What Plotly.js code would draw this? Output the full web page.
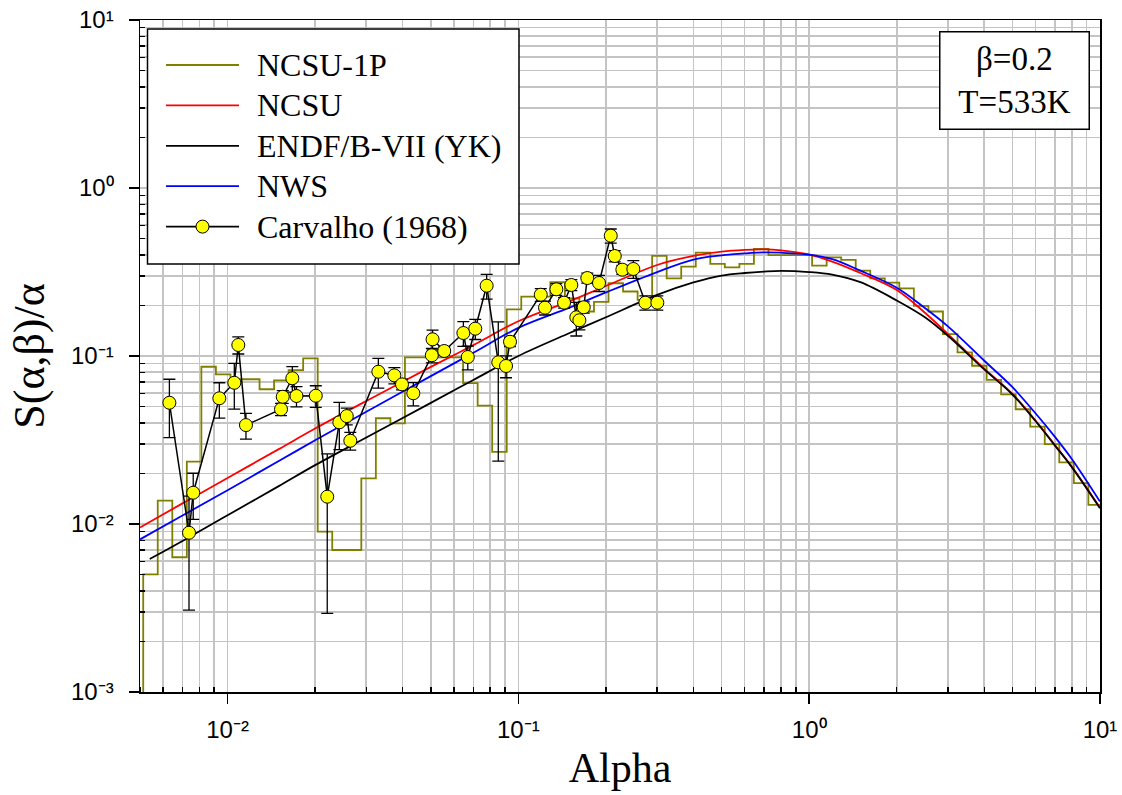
<!DOCTYPE html>
<html>
<head>
<meta charset="utf-8">
<script src="https://cdn.plot.ly/plotly-3.0.1.min.js"></script>
<style>html,body{margin:0;padding:0;background:#fff;}#chart{width:1122px;height:795px;}</style>
</head>
<body>
<div id="chart"></div>
<script>
// ---------------- DATA ----------------
// NCSU-1P histogram: bin edges (alpha) and bin values S/alpha
const ncsu1pEdges = [0.005129, 0.005754, 0.006457, 0.007244, 0.008128, 0.009120, 0.010233, 0.011482, 0.012882, 0.014454,
  0.016218, 0.018197, 0.020417, 0.022909, 0.025704, 0.028840, 0.032359, 0.036308, 0.040738, 0.045709,
  0.051286, 0.057544, 0.064565, 0.072444, 0.081283, 0.091201, 0.10233, 0.11482, 0.12882, 0.14454,
  0.16218, 0.18197, 0.20417, 0.22909, 0.25704, 0.28840, 0.32359, 0.36308, 0.40738, 0.45709,
  0.51286, 0.57544, 0.64565, 0.72444, 0.81283, 0.91201, 1.0233, 1.1482, 1.2882, 1.4454,
  1.6218, 1.8197, 2.0417, 2.2909, 2.5704, 2.8840, 3.2359, 3.6308, 4.0738, 4.5709,
  5.1286, 5.7544, 6.4565, 7.2444, 8.1283, 9.1201, 10];
const ncsu1pValues = [0.00502, 0.01377, 0.00634, 0.0235, 0.0863, 0.0778, 0.0727, 0.0727, 0.0634, 0.0716,
  0.0825, 0.0968, 0.0090, 0.0070, 0.0070, 0.0187, 0.0426, 0.0397, 0.0982, 0.0982,
  0.0982, 0.0982, 0.0689, 0.0506, 0.0269, 0.1897, 0.2255, 0.2255, 0.275, 0.22,
  0.184, 0.210, 0.271, 0.242, 0.216, 0.394, 0.290, 0.340, 0.412, 0.353,
  0.337, 0.353, 0.434, 0.399, 0.399, 0.399, 0.345, 0.386, 0.373, 0.322,
  0.290, 0.273, 0.253, 0.199, 0.184, 0.135, 0.105, 0.0875, 0.0720, 0.0591,
  0.0482, 0.0380, 0.0299, 0.0233, 0.0175, 0.0130];
const ncsu1pFloor = 0.0001; // histogram rises from zero (below axis) at first edge

// Smooth curves
const curveAlpha = [0.005, 0.007, 0.01, 0.015, 0.02, 0.03, 0.05, 0.07, 0.1, 0.15, 0.2, 0.3, 0.4, 0.5, 0.6, 0.7, 0.8, 1.0, 1.2, 1.5, 2, 2.5, 3, 4, 5, 6, 7, 8, 10];
const ncsuValues = [0.00953, 0.01327, 0.0188, 0.0279, 0.0370, 0.0540, 0.0861, 0.116, 0.161, 0.212, 0.261, 0.348, 0.394, 0.418, 0.428, 0.431, 0.425, 0.401, 0.365, 0.312, 0.247, 0.181, 0.135, 0.084, 0.0595, 0.0413, 0.0295, 0.0219, 0.0125];
const nwsValues = [0.0081, 0.01124, 0.0159, 0.0237, 0.0315, 0.0466, 0.0759, 0.1045, 0.147, 0.194, 0.239, 0.316, 0.375, 0.397, 0.408, 0.414, 0.412, 0.401, 0.377, 0.322, 0.255, 0.193, 0.150, 0.0937, 0.0652, 0.0456, 0.0330, 0.0244, 0.0136];
const endfAlpha = [0.0054, 0.007, 0.01, 0.015, 0.02, 0.03, 0.05, 0.07, 0.1, 0.15, 0.2, 0.3, 0.4, 0.5, 0.6, 0.7, 0.8, 1.0, 1.2, 1.5, 2, 2.5, 3, 4, 5, 6, 7, 8, 10];
const endfValues = [0.00619, 0.00793, 0.01127, 0.0168, 0.0224, 0.0327, 0.0526, 0.0720, 0.100, 0.137, 0.170, 0.231, 0.274, 0.301, 0.312, 0.318, 0.321, 0.316, 0.305, 0.275, 0.214, 0.170, 0.132, 0.0832, 0.0590, 0.0410, 0.0293, 0.0218, 0.0124];

// Carvalho (1968) measurements
const carvAlpha = [0.00631, 0.00737, 0.00762, 0.00937, 0.01055, 0.01089, 0.01157, 0.01527, 0.01548, 0.0167,
  0.01726, 0.02011, 0.02202, 0.02423, 0.0257, 0.02643, 0.033, 0.03746, 0.0398, 0.04353,
  0.0504, 0.0507, 0.0556, 0.0647, 0.067, 0.0711, 0.0778, 0.0853, 0.0907, 0.0936,
  0.1194, 0.1235, 0.1351, 0.1436, 0.1521, 0.1582, 0.1621, 0.1678, 0.1726, 0.1894,
  0.2078, 0.2145, 0.2278, 0.2485, 0.2733, 0.3005];
const carvValues = [0.0527, 0.00887, 0.01535, 0.056, 0.0693, 0.1163, 0.0388, 0.0482, 0.0572, 0.0737,
  0.0578, 0.058, 0.01454, 0.0403, 0.0439, 0.0313, 0.0806, 0.0767, 0.0678, 0.06,
  0.101, 0.1257, 0.1071, 0.137, 0.0986, 0.1454, 0.2621, 0.0917, 0.0872, 0.1216,
  0.2317, 0.1939, 0.2495, 0.2077, 0.2647, 0.17, 0.1632, 0.195, 0.2912, 0.272,
  0.5201, 0.3937, 0.3265, 0.3296, 0.2077, 0.2077];
const carvErrors = [0.020, 0.0058, 0.0047, 0.0133, 0.021, 0.0135, 0.0068, 0.004, 0.005, 0.0127,
  0.008, 0.0085, 0.0116, 0.0126, 0.005, 0.0038, 0.0163, 0.0085, 0.005, 0.0095,
  0.01, 0.017, 0.006, 0.023, 0.016, 0.02, 0.044, 0.068, 0.013, 0.008,
  0.02, 0.0185, 0.02, 0.015, 0.02, 0.0385, 0.02, 0.015, 0.02, 0.03,
  0.05, 0.03, 0.02, 0.04, 0.02, 0.02];

const seriesNames = ['NCSU-1P', 'NCSU', 'ENDF/B-VII (YK)', 'NWS', 'Carvalho (1968)'];
const seriesColors = ['#808000', '#ff0000', '#000000', '#0000ff', '#000000'];

const xTickVals = [0.01, 0.1, 1, 10];
const xTickText = ['10⁻²', '10⁻¹', '10⁰', '10¹'];
const yTickVals = [0.001, 0.01, 0.1, 1, 10];
const yTickText = ['10⁻³', '10⁻²', '10⁻¹', '10⁰', '10¹'];
const infoText = 'β=0.2<br>T=533K';

// ---------------- BUILD ----------------
const stepX = [ncsu1pEdges[0]].concat(ncsu1pEdges);
const stepY = [ncsu1pFloor].concat(ncsu1pValues).concat([ncsu1pValues[ncsu1pValues.length - 1]]);

const traces = [
  {x: stepX, y: stepY, mode: 'lines', line: {color: seriesColors[0], width: 1.8, shape: 'hv'}, name: seriesNames[0], showlegend: false},
  {x: curveAlpha, y: ncsuValues, mode: 'lines', line: {color: seriesColors[1], width: 1.8, shape: 'spline', smoothing: 1}, name: seriesNames[1], showlegend: false},
  {x: endfAlpha, y: endfValues, mode: 'lines', line: {color: seriesColors[2], width: 1.8, shape: 'spline', smoothing: 1}, name: seriesNames[2], showlegend: false},
  {x: curveAlpha, y: nwsValues, mode: 'lines', line: {color: seriesColors[3], width: 1.8, shape: 'spline', smoothing: 1}, name: seriesNames[3], showlegend: false},
  {x: carvAlpha, y: carvValues, mode: 'lines+markers', name: seriesNames[4], showlegend: false,
   line: {color: '#000', width: 1.5},
   marker: {size: 13, color: '#ffff00', line: {color: '#000', width: 1}},
   error_y: {type: 'data', array: carvErrors, visible: true, color: '#000', thickness: 1.3, width: 6}}
];

function minorVals(lo, hi) {
  const v = [];
  for (let d = lo; d < hi; d++) for (let m = 2; m <= 9; m++) v.push(m * Math.pow(10, d));
  return v;
}

// pixel -> paper helpers (plot area: x 140..1100, y 20..692)
const L = 140, T = 20, W = 960, H = 672;
const px = v => (v - L) / W;
const py = v => 1 - (v - T) / H;

const shapes = [];
const annotations = [];
// legend box
shapes.push({type: 'rect', xref: 'paper', yref: 'paper', x0: px(147.5), x1: px(519), y0: py(29), y1: py(264),
  line: {color: '#000', width: 1.5}, fillcolor: '#fff', layer: 'above'});
seriesNames.forEach((n, i) => {
  const yy = 65 + 40.4 * i;
  shapes.push({type: 'line', xref: 'paper', yref: 'paper', x0: px(166), x1: px(239), y0: py(yy), y1: py(yy),
    line: {color: seriesColors[i], width: 1.8}, layer: 'above'});
  if (i === 4) {
    shapes.push({type: 'circle', xref: 'paper', yref: 'paper', xsizemode: 'pixel', ysizemode: 'pixel',
      xanchor: px(202.5), yanchor: py(yy), x0: -6.5, x1: 6.5, y0: -6.5, y1: 6.5,
      line: {color: '#000', width: 1}, fillcolor: '#ffff00', layer: 'above'});
  }
  annotations.push({xref: 'paper', yref: 'paper', x: px(255), y: py(yy), xanchor: 'left', yanchor: 'middle',
    text: n, showarrow: false, font: {family: 'Liberation Serif, Times New Roman, serif', size: 32, color: '#000'}});
});
// beta / T box
annotations.push({xref: 'paper', yref: 'paper', x: px(1089.5), y: py(31), xanchor: 'right', yanchor: 'top',
  text: infoText, showarrow: false, align: 'center', valign: 'middle', width: 146, height: 94,
  bgcolor: '#fff', bordercolor: '#000', borderwidth: 1.5, borderpad: 1,
  font: {family: 'Liberation Serif, Times New Roman, serif', size: 33, color: '#000'}});

const gridC = '#c4c4c4';
const axisCommon = {
  type: 'log', tickmode: 'array', ticks: 'outside', ticklen: 10, tickwidth: 1.5, tickcolor: '#000',
  showline: true, linecolor: '#000', linewidth: 1.5, mirror: true,
  showgrid: true, gridcolor: gridC, gridwidth: 1.6, zeroline: false, automargin: false,
  tickfont: {family: 'Liberation Sans, Arial, sans-serif', size: 24, color: '#000'}
};

const layout = {
  width: 1122, height: 795,
  margin: {l: L, r: 1122 - L - W, t: T, b: 795 - T - H},
  paper_bgcolor: '#fff', plot_bgcolor: '#fff',
  showlegend: false,
  xaxis: Object.assign({}, axisCommon, {
    range: [Math.log10(0.005), 1],
    tickvals: xTickVals, ticktext: xTickText, ticklabelstandoff: 6,
    minor: {tickvals: minorVals(-3, 1), ticks: 'inside', ticklen: 5, tickcolor: '#000', showgrid: true, gridcolor: gridC, gridwidth: 1.6},
    title: {text: 'Alpha', font: {family: 'Liberation Serif, Times New Roman, serif', size: 42, color: '#000'}, standoff: 10}
  }),
  yaxis: Object.assign({}, axisCommon, {
    range: [-3, 1],
    tickvals: yTickVals, ticktext: yTickText, ticklabelstandoff: 10,
    minor: {tickvals: minorVals(-3, 1), ticks: 'inside', ticklen: 5, tickcolor: '#000', showgrid: true, gridcolor: gridC, gridwidth: 1.6},
    title: {text: 'S(α,β)/α', font: {family: 'Liberation Serif, Times New Roman, serif', size: 44, color: '#000'}, standoff: 12}
  }),
  shapes: shapes,
  annotations: annotations
};

Plotly.newPlot('chart', traces, layout, {displayModeBar: false, staticPlot: true});
</script>
</body>
</html>
